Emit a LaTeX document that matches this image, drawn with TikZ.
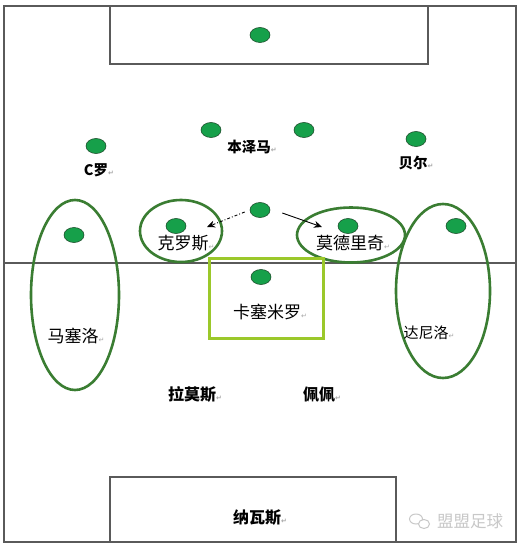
\documentclass[tikz,border=0pt]{standalone}
\usepackage{fontspec}
\setmainfont{Noto Sans CJK SC}
\newfontfamily\djv{DejaVu Sans}
\usetikzlibrary{shapes.geometric,arrows.meta}
\definecolor{dotgreen}{RGB}{22,160,74}
\definecolor{dotedge}{RGB}{30,80,45}
\definecolor{ringgreen}{RGB}{58,125,50}
\definecolor{boxyellow}{RGB}{155,200,42}
\definecolor{fieldline}{RGB}{90,90,90}
\definecolor{wm}{RGB}{200,200,200}
\newcommand{\rmk}{{\djv\fontsize{7}{7}\selectfont\color{gray!70}↵}}
\tikzset{
  player/.style={ellipse,draw=dotedge,line width=0.6pt,fill=dotgreen,minimum width=20pt,minimum height=15pt,inner sep=0pt},
  ring/.style={ellipse,draw=ringgreen,line width=2.6pt,inner sep=0pt},
  lbl/.style={inner sep=0pt,font=\fontsize{17}{17}\selectfont},
  lblb/.style={inner sep=0pt,font=\fontsize{14.5}{14.5}\selectfont\bfseries},
  field/.style={draw=fieldline,line width=1.4pt},
  run/.style={line width=0.9pt,-{Stealth[length=8pt,width=7pt]}},
  wmbubble/.style={ellipse,draw=wm,line width=1pt,inner sep=0pt}
}
\begin{document}
\begin{tikzpicture}[x=1pt,y=-1pt]
\useasboundingbox (0,0) rectangle (520,548);
\fill[white] (0,0) rectangle (520,548);
% field
\draw[field] (4,6) rectangle (516,542);
\draw[field] (110,6) rectangle (428,64);
\draw[field] (110,542) -- (110,477) -- (396,477) -- (396,542);
\draw[field] (4,263) -- (516,263);
% rings
\node[ring,minimum width=88pt,minimum height=190pt] (lring) at (75,295) {};
\node[ring,minimum width=82pt,minimum height=62pt] (kring) at (181,231) {};
\node[ring,minimum width=108pt,minimum height=55pt] (mring) at (351,235) {};
\node[ring,minimum width=94pt,minimum height=174pt] (rring) at (443,291) {};
\node[draw=boxyellow,line width=2.8pt,minimum width=114pt,minimum height=80pt,inner sep=0pt] (cbox) at (266.5,298.5) {};
% players
\node[player] (gk) at (260,35) {};
\node[player] (st1) at (211,130) {};
\node[player] (st2) at (304,130) {};
\node[player] (lw) at (96,146) {};
\node[player] (rw) at (416,139) {};
\node[player] (am) at (260,210) {};
\node[player] (lcm) at (176,226) {};
\node[player] (rcm) at (348,226) {};
\node[player] (lb) at (74,235) {};
\node[player] (rb) at (456,226) {};
\node[player] (dm) at (261,277) {};
% labels
\node[lblb] (tc) at (99,170) {C罗\rmk};
\node[lblb] (tb) at (252,147) {本泽马\rmk};
\node[lblb] (tg) at (416,163) {贝尔\rmk};
\node[lbl] (tk) at (186,243) {克罗斯\rmk};
\node[lbl] (tm) at (353,243) {莫德里奇\rmk};
\node[lbl] (tcs) at (270,312) {卡塞米罗\rmk};
\node[lbl] (tma) at (76,336) {马塞洛\rmk};
\node[lbl,font=\fontsize{15}{15}\selectfont] (td) at (429,333) {达尼洛\rmk};
\node[lbl,font=\fontsize{16}{16}\selectfont\bfseries] (tr) at (195,394) {拉莫斯\rmk};
\node[lbl,font=\fontsize{16}{16}\selectfont\bfseries] (tp) at (322,394) {佩佩\rmk};
\node[lbl,font=\fontsize{16}{16}\selectfont\bfseries] (tn) at (260,518) {纳瓦斯\rmk};
% runs
\coordinate (kend) at (207,227);
\coordinate (mend) at (322,227);
\draw[run,dash dot] (am.west) ++(-5,2) -- (kend);
\draw[run] (am.east) ++(12,3) -- (mend);
% watermark
\node[inner sep=0pt,text=wm,font=\fontsize{16.5}{16.5}\selectfont] (wmk) at (470,521) {盟盟足球};
\node[wmbubble,minimum width=13pt,minimum height=10pt] (wmi1) at (416,519) {};
\node[wmbubble,minimum width=11pt,minimum height=9pt,fill=white] (wmi2) at (424,524) {};
\end{tikzpicture}
\end{document}
